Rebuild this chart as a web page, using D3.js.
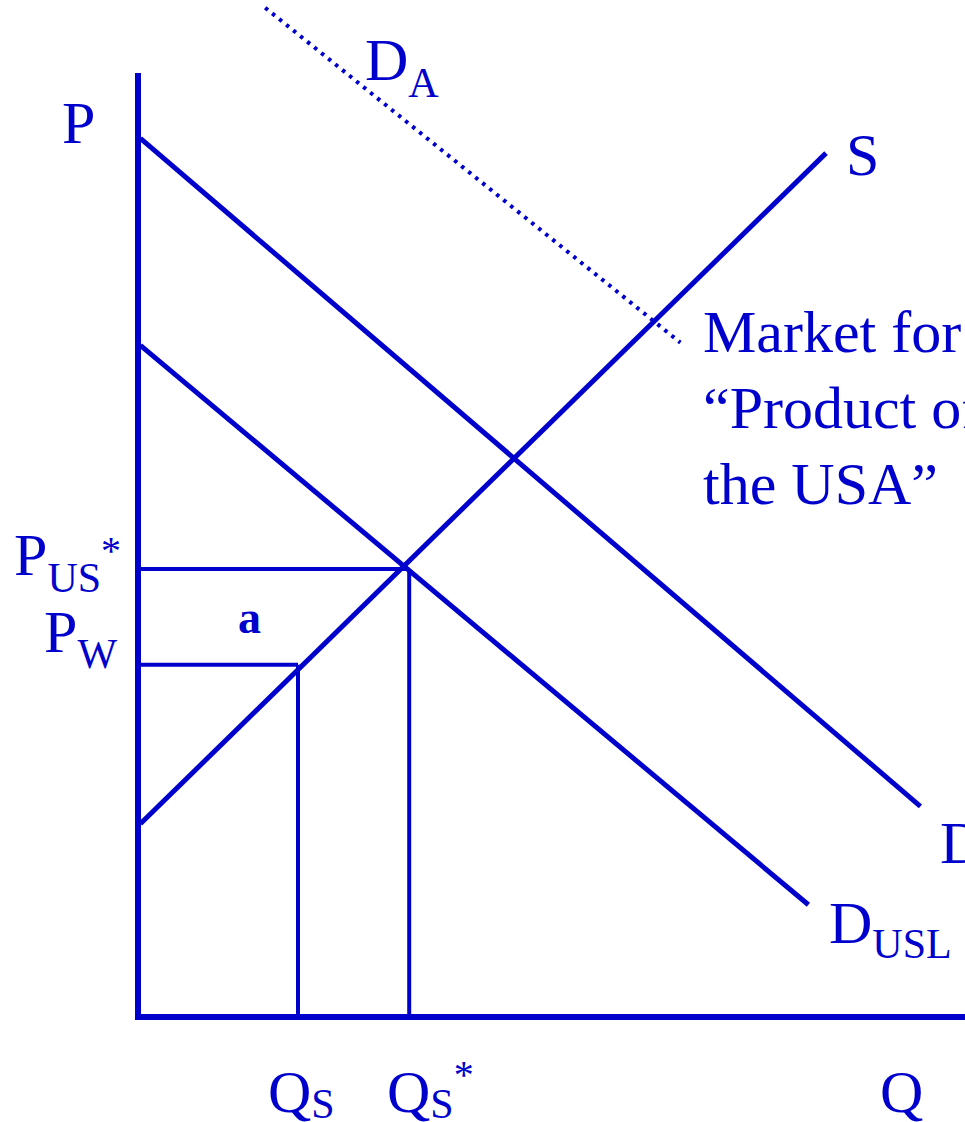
<!DOCTYPE html>
<html>
<head>
<meta charset="utf-8">
<script src="https://cdn.jsdelivr.net/npm/d3@7"></script>
<style>
  body { margin: 0; background: #fff; }
  text { font-family: "Liberation Serif", "Times New Roman", serif; fill: #0000cc; }
</style>
</head>
<body>
<div id="chart"></div>
<script>
// curves as [Q, P] end points
const demand = [[0.03, 9.55], [9.78, 2.29]];
const demandUSL = [[0.03, 7.30], [8.38, 1.22]];
const supply = [[0.03, 2.10], [8.60, 9.39]];
const demandA = [[1.59, 10.97], [6.78, 7.33]];

// equilibrium levels
const pUS = 4.87, qSstar = 3.39;
const pW = 3.83, qS = 2.0;
const qMax = 10.34, pMax = 10.26;

const width = 965, height = 1122;
const blue = "#0000cc";

const x = d3.scaleLinear().domain([0, 10]).range([138, 938]);
const y = d3.scaleLinear().domain([0, 10]).range([1017, 97]);

const svg = d3.select("#chart").append("svg")
    .attr("width", width)
    .attr("height", height);

const line = d3.line().x(d => x(d[0])).y(d => y(d[1]));

// guide lines for a
const guides = [
    [[0, pUS], [qSstar, pUS]],
    [[qSstar, pUS], [qSstar, 0]],
    [[0, pW], [qS, pW]],
    [[qS, pW], [qS, 0]]
];
svg.append("g")
    .selectAll("path")
    .data(guides)
    .enter().append("path")
    .attr("d", line)
    .attr("stroke", blue)
    .attr("stroke-width", 4)
    .attr("fill", "none");

// curves
svg.append("g")
    .selectAll("path")
    .data([demand, demandUSL, supply])
    .enter().append("path")
    .attr("d", line)
    .attr("stroke", blue)
    .attr("stroke-width", 5)
    .attr("fill", "none");

svg.append("path")
    .attr("d", line(demandA))
    .attr("stroke", blue)
    .attr("stroke-width", 4)
    .attr("stroke-dasharray", "3.5 5.5")
    .attr("fill", "none");

// axes
svg.append("path")
    .attr("d", line([[0, pMax], [0, 0]]))
    .attr("stroke", blue)
    .attr("stroke-width", 6)
    .attr("fill", "none");
svg.append("path")
    .attr("d", `M${x(0) - 3},${y(0)} L${x(qMax)},${y(0)}`)
    .attr("stroke", blue)
    .attr("stroke-width", 6)
    .attr("fill", "none");

// labels: main text + optional subscript + optional star
function label(px, py, main, sub, star, opts = {}) {
    const t = svg.append("text")
        .attr("x", px)
        .attr("y", py)
        .style("font-size", (opts.size || 60) + "px")
        .style("font-weight", opts.bold ? "bold" : null);
    t.append("tspan").text(main);
    if (sub) {
        t.append("tspan")
            .attr("dy", opts.subDy || 16)
            .style("font-size", (opts.subSize || 42) + "px")
            .text(sub);
    }
    if (star) {
        t.append("tspan")
            .attr("dy", opts.starDy || -30)
            .style("font-size", "40px")
            .text("*");
    }
    return t;
}

label(62, 143, "P");
label(365, 80, "D", "A", false, {subDy: 17});
label(846, 175, "S");
label(940, 863, "D");
label(829, 943, "D", "USL", false, {subDy: 15});
label(14, 575, "P", "US", true, {subDy: 17, starDy: -28});
label(44, 652, "P", "W", false, {subDy: 16});
label(238, 633, "a", null, false, {size: 46, bold: true});
label(268, 1112, "Q", "S", false, {subDy: 6});
label(387, 1112, "Q", "S", true, {subDy: 6, starDy: -30});
label(880, 1112, "Q");

svg.append("text")
    .attr("x", 703)
    .attr("y", 352)
    .style("font-size", "60px")
    .selectAll("tspan")
    .data(["Market for", "\u201cProduct of", "the USA\u201d"])
    .enter().append("tspan")
    .attr("x", 703)
    .attr("dy", (d, i) => i === 0 ? 0 : 76)
    .text(d => d);
</script>
</body>
</html>
